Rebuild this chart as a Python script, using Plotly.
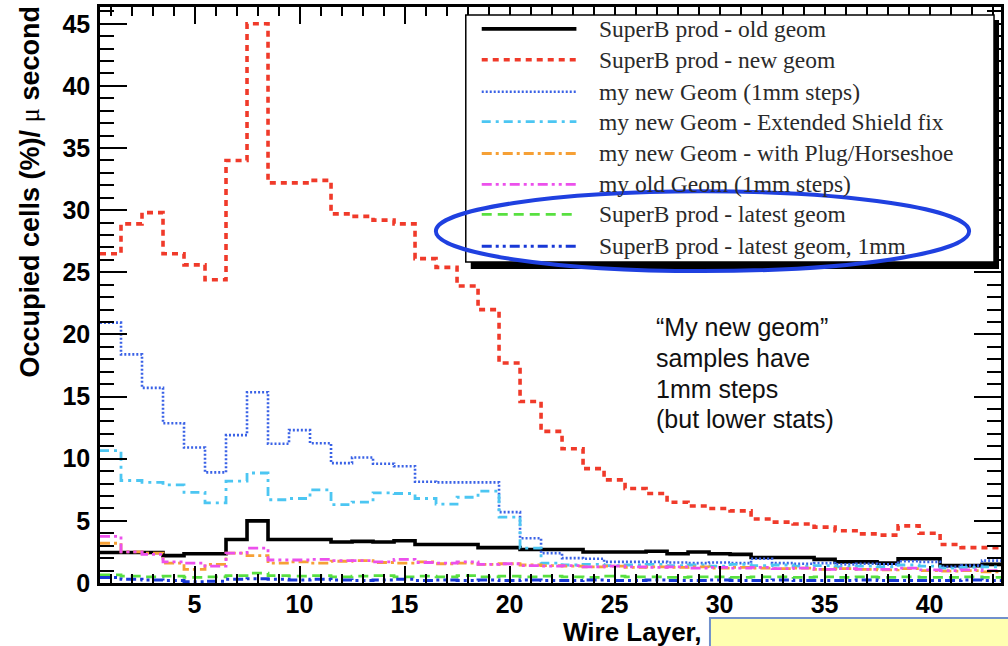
import plotly.graph_objects as go

# Wire layer numbers (one histogram bin per layer)
layers = list(range(1, 44))

# Occupancy (% of cells per microsecond) per wire layer for each sample
old_geom = [2.45, 2.45, 2.45, 2.2, 2.35, 2.35, 3.5, 5.0, 3.5, 3.5, 3.5, 3.3, 3.35, 3.3, 3.4,
            3.1, 3.1, 3.1, 2.85, 2.85, 2.7, 2.7, 2.7, 2.5, 2.5, 2.5, 2.55, 2.35, 2.5, 2.35,
            2.3, 2.05, 2.05, 2.05, 1.9, 1.7, 1.7, 1.6, 1.95, 1.95, 1.4, 1.4, 1.5]
new_geom = [26.5, 28.9, 29.8, 26.5, 25.6, 24.4, 34.0, 45.0, 32.2, 32.2, 32.4, 29.7, 29.5, 29.2,
            28.9, 26.1, 25.4, 23.9, 22.0, 17.7, 14.6, 12.2, 10.8, 9.2, 8.3, 7.6, 7.2, 6.5, 6.2,
            6.0, 5.8, 5.15, 4.9, 4.75, 4.5, 4.2, 3.95, 3.85, 4.6, 4.0, 3.1, 2.85, 2.85]
my_new_1mm = [20.95, 18.4, 15.7, 12.85, 10.9, 8.9, 11.9, 15.35, 11.2, 12.3, 11.25, 9.65, 10.1,
              9.6, 9.4, 8.15, 8.1, 8.1, 8.1, 5.7, 3.6, 2.4, 2.0, 1.95, 1.7, 1.7, 1.7, 1.65, 1.6,
              1.65, 1.6, 1.95, 1.6, 1.55, 1.6, 1.5, 1.55, 1.5, 1.75, 1.7, 1.3, 1.4, 1.8]
ext_shield = [10.65, 8.25, 8.1, 7.9, 7.3, 6.45, 8.2, 8.85, 6.7, 6.8, 7.5, 6.3, 6.5, 7.25, 7.2,
              6.8, 6.35, 6.9, 7.4, 5.3, 2.8, 1.6, 1.45, 1.5, 1.4, 1.45, 1.5, 1.4, 1.45, 1.35,
              1.5, 1.4, 1.45, 1.35, 1.4, 1.3, 1.35, 1.3, 1.45, 1.35, 1.2, 1.25, 1.3]
plug_horseshoe = [3.2, 2.5, 2.4, 1.6, 1.1, 1.5, 2.4, 2.2, 1.6, 1.7, 1.6, 1.75, 1.8, 1.65, 1.6,
                  1.7, 1.55, 1.6, 1.5, 1.55, 1.45, 1.4, 1.35, 1.3, 1.35, 1.25, 1.3, 1.25, 1.3,
                  1.2, 1.25, 1.2, 1.15, 1.2, 1.1, 1.15, 1.1, 1.05, 1.15, 1.0, 0.95, 1.0, 0.9]
my_old_1mm = [3.75, 2.5, 2.3, 1.7, 1.6, 1.35, 2.4, 2.8, 1.85, 1.85, 1.9, 1.8, 1.8, 1.7, 1.9,
              1.65, 1.6, 1.7, 1.5, 1.55, 1.4, 1.35, 1.4, 1.3, 1.35, 1.3, 1.25, 1.3, 1.2, 1.25,
              1.2, 1.25, 1.15, 1.2, 1.1, 1.15, 1.1, 1.1, 1.2, 1.05, 1.0, 1.05, 1.0]
latest_geom = [0.65, 0.55, 0.5, 0.55, 0.45, 0.5, 0.6, 0.8, 0.6, 0.55, 0.6, 0.5, 0.55, 0.6, 0.5,
               0.55, 0.5, 0.6, 0.5, 0.55, 0.5, 0.55, 0.5, 0.45, 0.55, 0.5, 0.5, 0.45, 0.5, 0.5,
               0.45, 0.5, 0.5, 0.45, 0.5, 0.45, 0.5, 0.45, 0.5, 0.45, 0.45, 0.5, 0.45]
latest_1mm = [0.45, 0.3, 0.25, 0.2, 0.1, 0.15, 0.3, 0.35, 0.3, 0.25, 0.3, 0.25, 0.2, 0.25, 0.3,
              0.2, 0.25, 0.2, 0.25, 0.2, 0.25, 0.2, 0.2, 0.25, 0.2, 0.2, 0.25, 0.2, 0.2, 0.25,
              0.2, 0.2, 0.25, 0.2, 0.2, 0.2, 0.25, 0.2, 0.2, 0.2, 0.2, 0.25, 0.2]

series = [
    ("SuperB prod - old geom", old_geom, "#000000", "solid", 3.6),
    ("SuperB prod - new geom", new_geom, "#f03a2a", "6px,5px", 3.6),
    ("my new Geom (1mm steps)", my_new_1mm, "#3a62e6", "2px,2px", 2.6),
    ("my new Geom - Extended Shield fix", ext_shield, "#4cc6f2", "9px,5px,3px,5px", 2.8),
    ("my new Geom - with Plug/Horseshoe", plug_horseshoe, "#f6a035", "10px,4px,3px,4px", 2.8),
    ("my old Geom (1mm steps)", my_old_1mm, "#ec50ec", "10px,4px,3px,4px,3px,4px", 2.8),
    ("SuperB prod - latest geom", latest_geom, "#58e040", "10px,6px", 2.8),
    ("SuperB prod - latest geom, 1mm", latest_1mm, "#1838d6", "10px,4px,3px,4px,3px,4px", 3.0),
]

# plot-area frame in page pixels, used to place overlay items in paper coordinates
PL, PR, PT, PB = 100, 1004, 5, 583


def px(x):
    return (x - PL) / (PR - PL)


def py(y):
    return (PB - y) / (PB - PT)


fig = go.Figure()

# histogram outlines: bin edges at layer +/- 0.5, step drawn horizontally across each bin
edges = [l - 0.5 for l in layers] + [layers[-1] + 0.5]
for name, vals, color, dash, width in series:
    fig.add_trace(go.Scatter(
        x=edges, y=list(vals) + [vals[-1]], mode="lines", name=name,
        line=dict(color=color, dash=dash, width=width, shape="hv"),
        showlegend=False, hoverinfo="skip",
    ))

shapes = []
annotations = []

# legend box with drop shadow
shapes.append(dict(type="rect", xref="paper", yref="paper", x0=px(472), x1=px(1002),
                   y0=py(268), y1=py(18), fillcolor="black", line=dict(width=0), layer="above"))
shapes.append(dict(type="rect", xref="paper", yref="paper", x0=px(467), x1=px(997),
                   y0=py(261), y1=py(13), fillcolor="white", line=dict(color="black", width=1.5),
                   layer="above"))
row_y = [27, 58, 90, 120, 152, 183, 213, 245]
for (name, vals, color, dash, width), ry in zip(series, row_y):
    shapes.append(dict(type="line", xref="paper", yref="paper", x0=px(483), x1=px(578),
                       y0=py(ry), y1=py(ry), line=dict(color=color, dash=dash, width=width),
                       layer="above"))
    annotations.append(dict(xref="paper", yref="paper", x=px(599), y=py(ry), text=name,
                            showarrow=False, xanchor="left", yanchor="middle",
                            font=dict(family="Liberation Serif", size=23.5, color="#2a2a2a")))

# highlight around the two latest-geometry entries
shapes.append(dict(type="circle", xref="paper", yref="paper", x0=px(437), x1=px(972),
                   y0=py(270), y1=py(190), line=dict(color="#1f40e0", width=4), layer="above"))

# yellow note box along the bottom edge
shapes.append(dict(type="rect", xref="paper", yref="paper", x0=px(712), x1=px(1015),
                   y0=py(655), y1=py(618), fillcolor="#ffffb0",
                   line=dict(color="#7090cc", width=2), layer="above"))

# side note
note_lines = [("\u201cMy new geom\u201d", 326), ("samples have", 357),
              ("1mm steps", 388), ("(but lower stats)", 418)]
for txt, ny in note_lines:
    annotations.append(dict(xref="paper", yref="paper", x=px(656), y=py(ny), text=txt,
                            showarrow=False, xanchor="left", yanchor="middle",
                            font=dict(family="Liberation Sans", size=25, color="#111111")))

# axis titles
annotations.append(dict(xref="paper", yref="paper", x=px(30), y=py(190), textangle=-90,
                        text="Occupied cells (%)/ <span style='font-family:Liberation Serif;"
                             "font-weight:normal'>\u03bc</span> second",
                        showarrow=False, xanchor="center", yanchor="middle",
                        font=dict(family="Liberation Sans", size=27, color="black", weight="bold")))
annotations.append(dict(xref="paper", yref="paper", x=px(563), y=py(632), text="Wire Layer,",
                        showarrow=False, xanchor="left", yanchor="middle",
                        font=dict(family="Liberation Sans", size=26, color="black", weight="bold")))

tick_font = dict(family="Liberation Sans", size=25, color="black", weight="bold")

fig.update_layout(
    width=1008, height=646,
    margin=dict(l=PL, r=1008 - PR, t=PT, b=646 - PB, pad=0),
    paper_bgcolor="white", plot_bgcolor="white",
    shapes=shapes, annotations=annotations,
    xaxis=dict(range=[0.5, 43.4], tickvals=[5, 10, 15, 20, 25, 30, 35, 40],
               ticks="inside", ticklen=17, tickwidth=2, tickcolor="black",
               minor=dict(ticks="inside", ticklen=9, tickwidth=1.5, tickcolor="black",
                          dtick=1, tick0=0),
               showline=True, linewidth=2.5, linecolor="black", mirror="ticks",
               showgrid=False, zeroline=False, tickfont=tick_font, ticklabelstandoff=-3),
    yaxis=dict(range=[0, 46.35], tickvals=[0, 5, 10, 15, 20, 25, 30, 35, 40, 45],
               ticks="inside", ticklen=27, tickwidth=2, tickcolor="black",
               minor=dict(ticks="inside", ticklen=14, tickwidth=1.5, tickcolor="black",
                          dtick=1, tick0=0),
               showline=True, linewidth=2.5, linecolor="black", mirror="ticks",
               showgrid=False, zeroline=False, tickfont=tick_font, ticklabelstandoff=2),
)

fig.write_html("out.html")
